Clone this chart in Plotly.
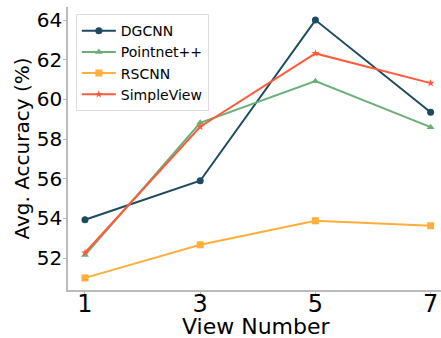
import plotly.graph_objects as go

views = [1, 3, 5, 7]
dgcnn = [53.93, 55.9, 64.0, 59.35]
pointnet = [52.15, 58.82, 60.92, 58.6]
rscnn = [51.0, 52.67, 53.88, 53.63]
simpleview = [52.27, 58.62, 62.32, 60.82]
y_ticks = [52, 54, 56, 58, 60, 62, 64]
x_ticks = [1, 3, 5, 7]
x_title = "View Number"
y_title = "Avg. Accuracy (%)"

series = [
    ("DGCNN", dgcnn, "#1c4b60", "circle", 7),
    ("Pointnet++", pointnet, "#6aaf78", "triangle-up", 7),
    ("RSCNN", rscnn, "#ffae3a", "square", 7),
    ("SimpleView", simpleview, "#ff5a3a", "star", 6),
]

fig = go.Figure()
for name, vals, color, sym, sz in series:
    fig.add_trace(go.Scatter(
        x=views, y=vals, name=name, mode="lines+markers",
        line=dict(color=color, width=2),
        marker=dict(symbol=sym, size=sz, color=color),
    ))

fig.add_annotation(
    text=x_title, xref="paper", yref="paper", x=0.506, y=0,
    xanchor="center", yanchor="top", yshift=-23, showarrow=False,
    borderpad=0,
    font=dict(size=22, family="DejaVu Sans", color="black"),
)

fig.update_layout(
    width=441, height=338,
    margin=dict(l=68, r=0, t=7, b=48, autoexpand=False),
    paper_bgcolor="white", plot_bgcolor="white",
    font=dict(family="DejaVu Sans", color="black"),
    showlegend=True,
    legend=dict(
        x=0.021, y=0.975, xanchor="left", yanchor="top",
        bgcolor="rgba(255,255,255,0.8)", bordercolor="#dddddd", borderwidth=1,
        font=dict(size=14, family="DejaVu Sans"),
        itemwidth=34, tracegroupgap=0,
    ),
    xaxis=dict(
        range=[0.705, 7.18], tickvals=x_ticks, ticktext=[str(v) for v in x_ticks],
        showgrid=False, zeroline=False, showline=True, linecolor="#bbbbbb", linewidth=1.5,
        ticks="outside", ticklen=3, tickcolor="#bbbbbb",
        tickfont=dict(size=24), ticklabelstandoff=-12,
    ),
    yaxis=dict(
        range=[50.39, 64.66], tickvals=y_ticks, ticktext=[str(v) for v in y_ticks],
        showgrid=False, zeroline=False, showline=True, linecolor="#bbbbbb", linewidth=1.5,
        ticks="outside", ticklen=3, tickcolor="#bbbbbb",
        tickfont=dict(size=20), ticklabelstandoff=-3,
        title=dict(text=y_title, font=dict(size=20), standoff=2),
    ),
)

fig.write_html("out.html", config={"displayModeBar": False},
               post_script="document.body.style.margin='0';")
